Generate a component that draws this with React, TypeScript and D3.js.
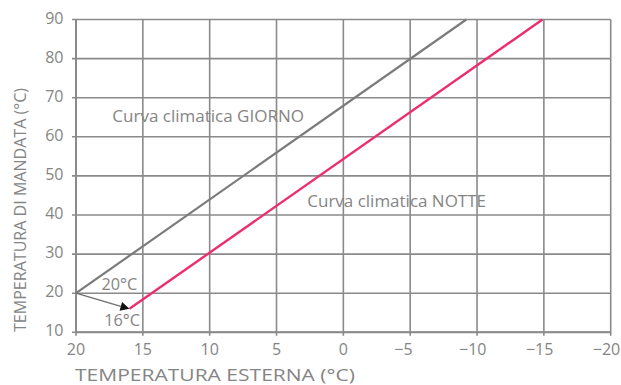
import React from "react";
import * as d3 from "d3";

const W = 621;
const H = 385;
const xTicks = [20, 15, 10, 5, 0, -5, -10, -15, -20];
const yTicks = [10, 20, 30, 40, 50, 60, 70, 80, 90];
const giornoX = [20, -9.2];
const giornoY = [20, 90];
const notteX = [16, -14.9];
const notteY = [16, 90];
const arrowFrom = [20, 20];
const arrowTo = [16, 16];

const M = { left: 76, right: 10.3, top: 19.5, bottom: 52.7 };
const FONT = "'Open Sans', sans-serif";
const TXT = "#858585";
const GRID = "#8a8a8a";

function fmt(t: number) {
  return t < 0 ? "\u2212" + Math.abs(t) : String(t);
}

export default function App() {
  const x = d3.scaleLinear().domain([20, -20]).range([M.left, W - M.right]);
  const y = d3.scaleLinear().domain([10, 90]).range([H - M.bottom, M.top]);
  const line = d3
    .line<[number, number]>()
    .x((d) => x(d[0]))
    .y((d) => y(d[1]));
  const g = giornoX.map((v, i) => [v, giornoY[i]] as [number, number]);
  const n = notteX.map((v, i) => [v, notteY[i]] as [number, number]);
  const ax0 = x(arrowFrom[0]);
  const ay0 = y(arrowFrom[1]);
  const ax1 = x(arrowTo[0]);
  const ay1 = y(arrowTo[1]);
  const ang = Math.atan2(ay1 - ay0, ax1 - ax0);
  const hl = 9;
  const hw = 4.5;
  const bx = ax1 - hl * Math.cos(ang);
  const by = ay1 - hl * Math.sin(ang);
  const head = [
    [ax1, ay1],
    [bx - hw * Math.sin(ang), by + hw * Math.cos(ang)],
    [bx + hw * Math.sin(ang), by - hw * Math.cos(ang)],
  ];
  const bottom = H - M.bottom;
  return (
    <svg
      width={W}
      height={H}
      style={{ position: "absolute", left: 0, top: 0, background: "#fff" }}
      fontFamily={FONT}
    >
      {xTicks.map((t) => (
        <line
          key={"vx" + t}
          x1={x(t)}
          x2={x(t)}
          y1={M.top}
          y2={bottom + 3.5}
          stroke={GRID}
          strokeWidth={1.6}
        />
      ))}
      {yTicks.map((t) => (
        <line
          key={"hy" + t}
          x1={M.left - 4}
          x2={W - M.right}
          y1={y(t)}
          y2={y(t)}
          stroke={GRID}
          strokeWidth={1.6}
        />
      ))}
      <line x1={M.left} x2={M.left} y1={M.top} y2={bottom} stroke={GRID} strokeWidth={2} />
      <line x1={M.left} x2={W - M.right} y1={bottom} y2={bottom} stroke={GRID} strokeWidth={2} />
      {xTicks.map((t) =>
        t < 0 ? (
          <text
            key={"tx" + t}
            x={x(t) + (Math.abs(t) >= 10 ? 9.5 : 2.4)}
            y={355}
            textAnchor="end"
            fontSize={16}
            fill={TXT}
          >
            {fmt(t)}
          </text>
        ) : (
          <text
            key={"tx" + t}
            x={x(t)}
            y={355}
            textAnchor="middle"
            fontSize={16}
            fill={TXT}
          >
            {fmt(t)}
          </text>
        )
      )}
      {yTicks.map((t) => (
        <text
          key={"ty" + t}
          x={63.5}
          y={y(t) + 4}
          textAnchor="end"
          fontSize={16}
          fill={TXT}
        >
          {t}
        </text>
      ))}
      <text
        x={75}
        y={380.8}
        fontSize={15.5}
        fill={TXT}
        textLength={280}
        lengthAdjust="spacingAndGlyphs"
      >
        TEMPERATURA ESTERNA (°C)
      </text>
      <text
        transform={`translate(25.5,${(88 + 332) / 2}) rotate(-90)`}
        textAnchor="middle"
        fontSize={15.5}
        fill={TXT}
        textLength={244}
        lengthAdjust="spacingAndGlyphs"
      >
        TEMPERATURA DI MANDATA (°C)
      </text>
      <path d={line(g) || ""} fill="none" stroke="#7b7b7b" strokeWidth={2.2} />
      <path d={line(n) || ""} fill="none" stroke="#ec2d6f" strokeWidth={2.4} />
      <line x1={ax0} y1={ay0} x2={bx} y2={by} stroke="#6f6f6f" strokeWidth={1.3} />
      <polygon points={head.map((p) => p.join(",")).join(" ")} fill="#111" />
      <text x={101.5} y={289.5} fontSize={17} fill={TXT} textLength={35.8} lengthAdjust="spacingAndGlyphs">
        20°C
      </text>
      <text x={104.2} y={325.8} fontSize={17} fill={TXT} textLength={35.8} lengthAdjust="spacingAndGlyphs">
        16°C
      </text>
      <text x={112.3} y={122.3} fontSize={17} fill={TXT} textLength={191.7} lengthAdjust="spacingAndGlyphs">
        Curva climatica GIORNO
      </text>
      <text x={307.3} y={206.7} fontSize={17} fill={TXT} textLength={178.7} lengthAdjust="spacingAndGlyphs">
        Curva climatica NOTTE
      </text>
    </svg>
  );
}
